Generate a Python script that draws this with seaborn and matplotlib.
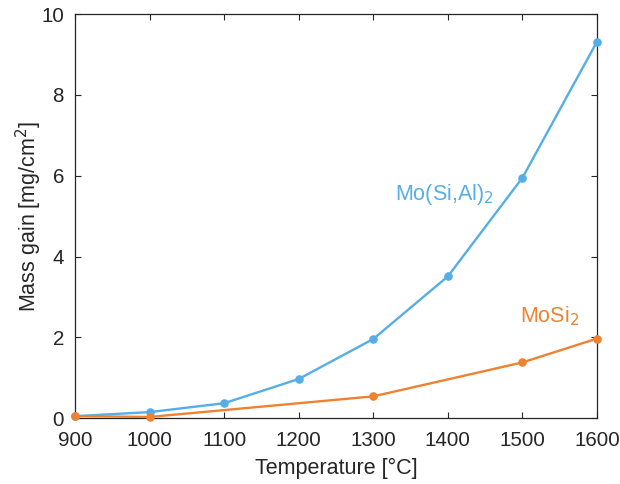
import matplotlib
matplotlib.use("Agg")
import matplotlib.pyplot as plt
import seaborn as sns
import pandas as pd

temp_mosial = [900, 1000, 1100, 1200, 1300, 1400, 1500, 1600]
gain_mosial = [0.05, 0.15, 0.37, 0.97, 1.96, 3.51, 5.95, 9.32]
temp_mosi2 = [900, 1000, 1300, 1500, 1600]
gain_mosi2 = [0.05, 0.03, 0.54, 1.38, 1.97]
series_names = ["Mo(Si,Al)$_2$", "MoSi$_2$"]
colors = ["#55AEE6", "#EF8231"]

df = pd.concat([
    pd.DataFrame({"T": temp_mosial, "gain": gain_mosial, "s": series_names[0]}),
    pd.DataFrame({"T": temp_mosi2, "gain": gain_mosi2, "s": series_names[1]}),
])

sns.set_style("ticks")
plt.rcParams["font.family"] = ["Liberation Sans", "DejaVu Sans"]

fig = plt.figure(figsize=(6.2, 4.84), dpi=100)
ax = fig.add_axes([0.121, 0.136, 0.842, 0.835])
sns.lineplot(data=df, x="T", y="gain", hue="s", palette=colors, marker="o",
             markersize=6.2, markeredgewidth=0, linewidth=1.7, legend=False,
             ax=ax, clip_on=False, zorder=3)

ax.set_xlim(900, 1600)
ax.set_ylim(0, 10)
ax.set_xticks(range(900, 1601, 100))
ax.set_yticks(range(0, 11, 2))
ax.tick_params(direction="in", top=True, right=True, labelsize=14.8,
               length=4, width=0.8, color="#262626", labelcolor="#262626")
ax.tick_params(axis="x", pad=9)
ax.tick_params(axis="y", pad=8)
for sp in ax.spines.values():
    sp.set_visible(True)
    sp.set_color("#262626")
    sp.set_linewidth(0.9)
ax.set_xlabel("Temperature [°C]", fontsize=15.5, color="#262626", labelpad=6)
ax.set_ylabel("Mass gain [mg/cm$^2$]", fontsize=15.5, color="#262626")
ax.yaxis.set_label_coords(-0.060, 0.5)

ax.text(1329, 5.4, series_names[0], color=colors[0], fontsize=15.5)
ax.text(1497, 2.38, series_names[1], color=colors[1], fontsize=15.5)

fig.savefig("out.png", dpi=100)
